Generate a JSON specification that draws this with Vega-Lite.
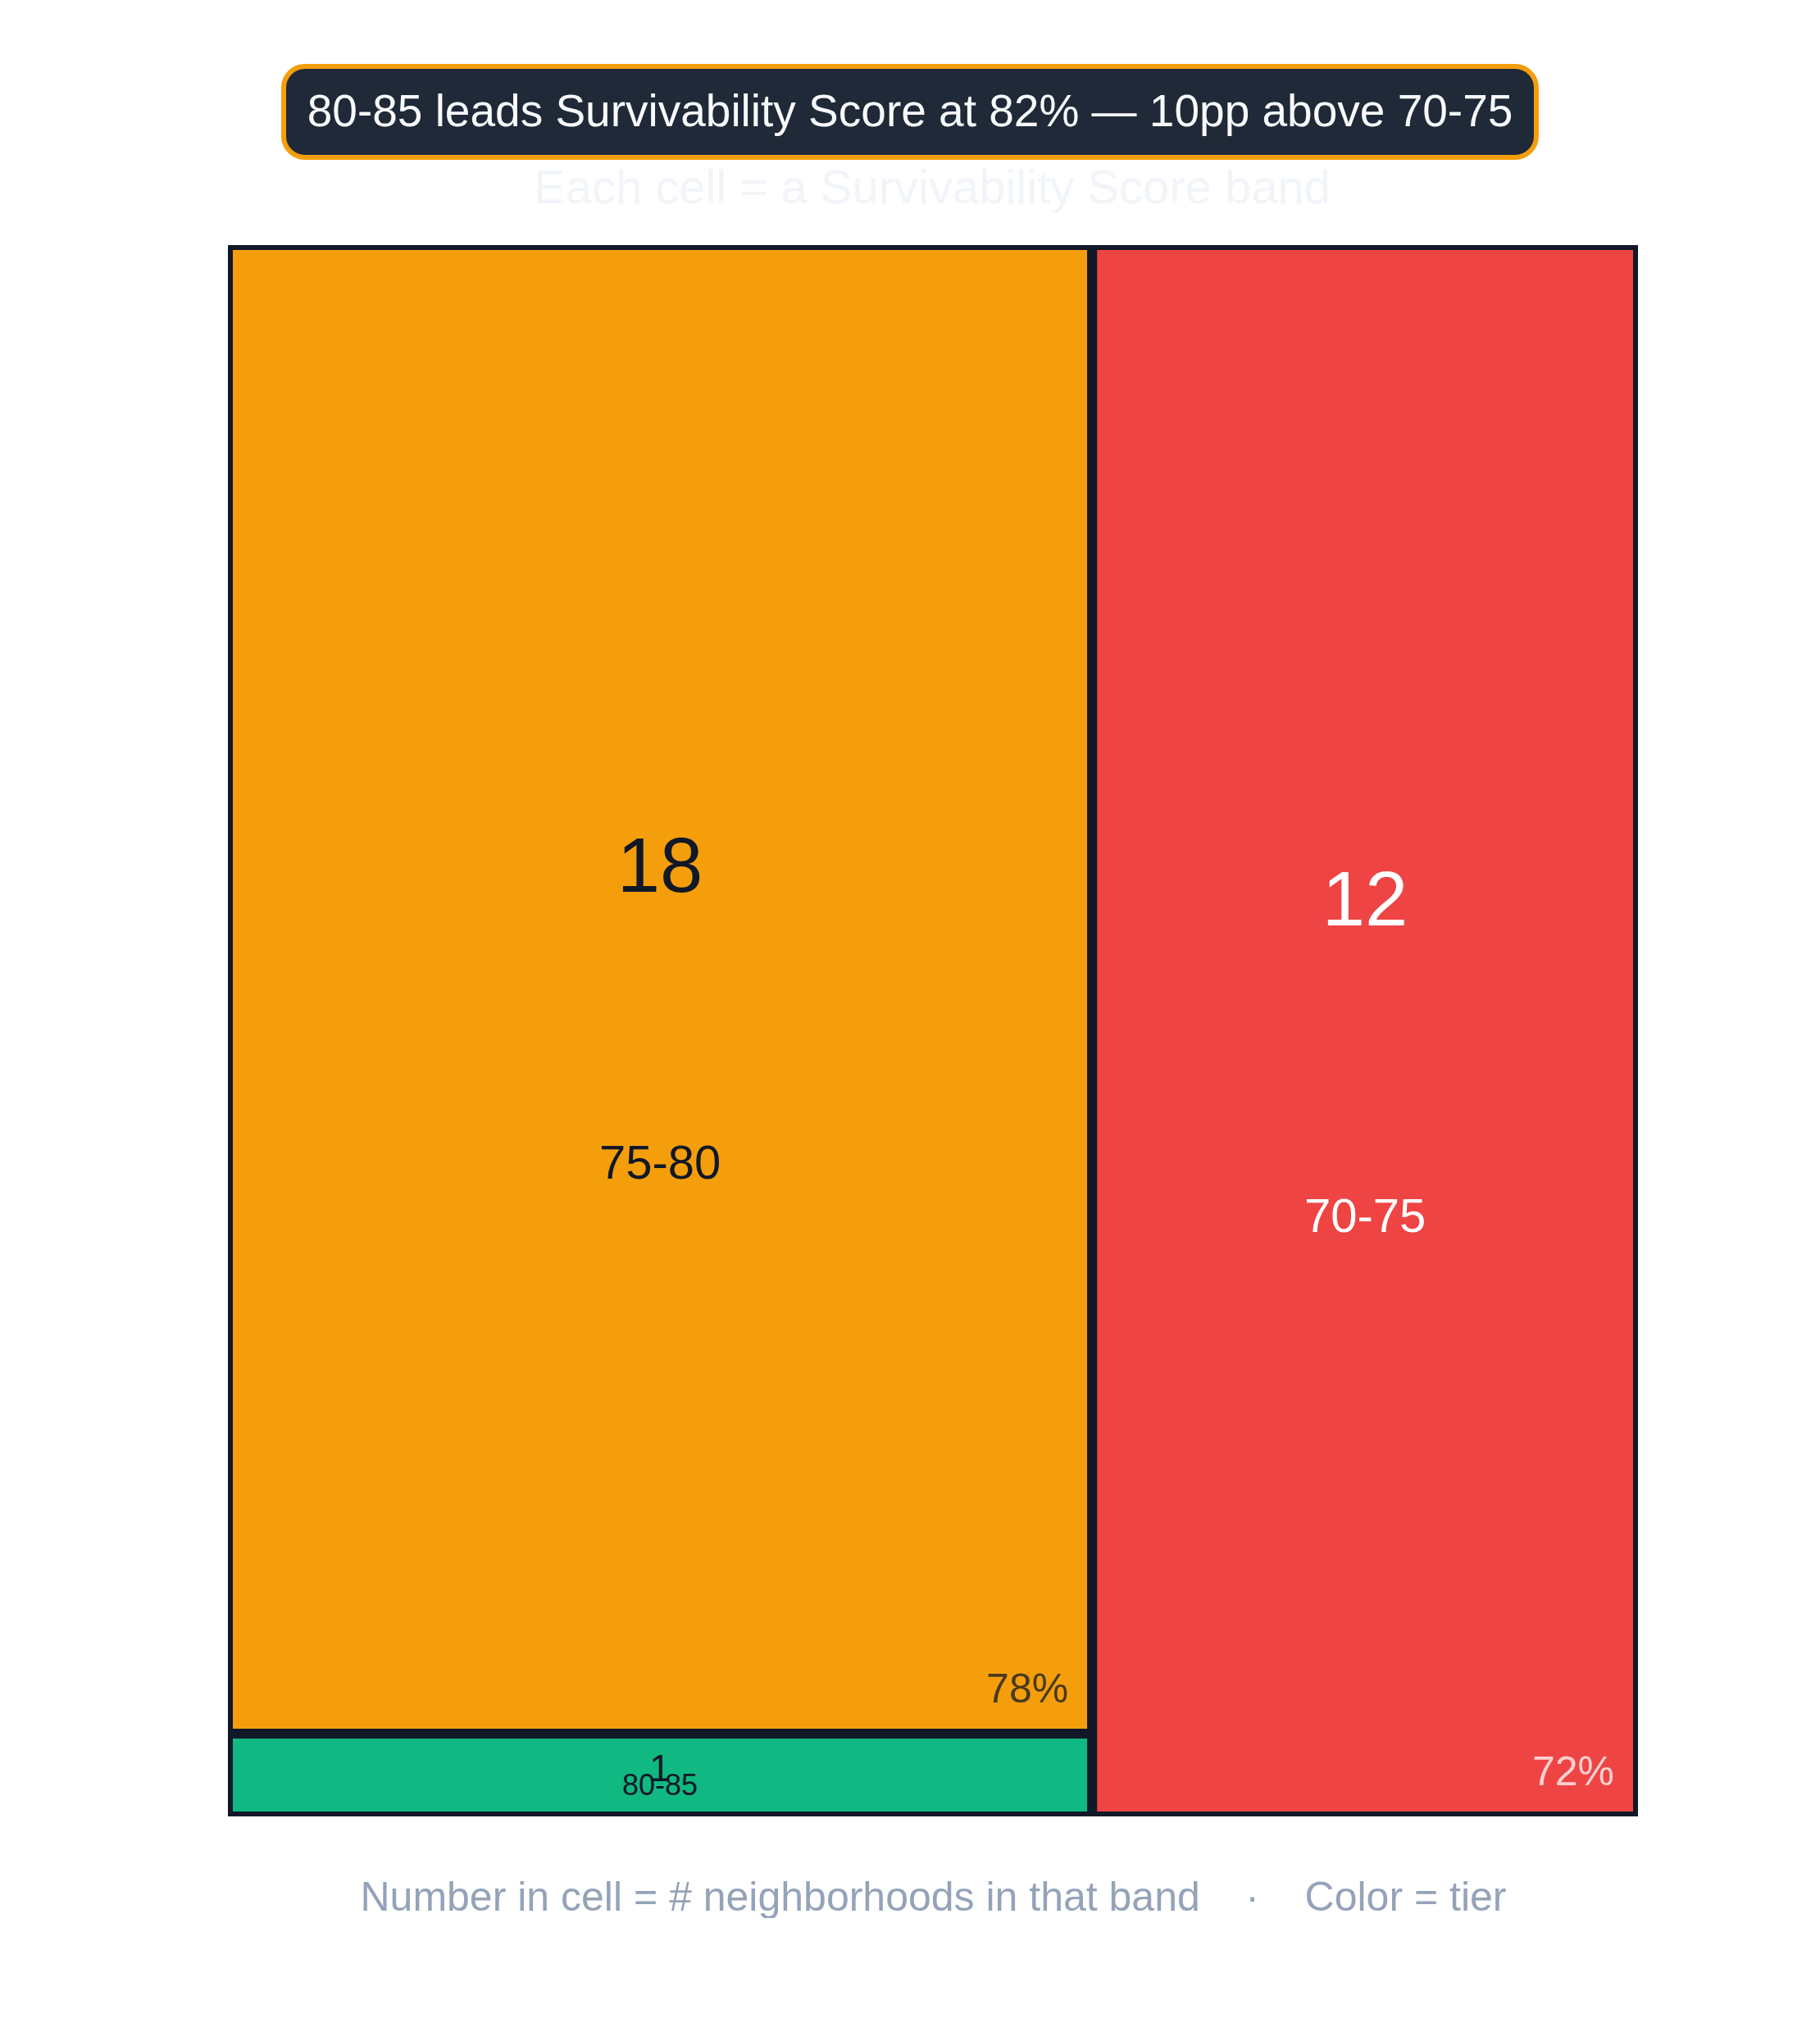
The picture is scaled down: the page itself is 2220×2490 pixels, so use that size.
{
  "$schema": "https://vega.github.io/schema/vega-lite/v6.json",
  "padding": {"left": 278, "top": 78, "right": 0, "bottom": 0},
  "background": "white",
  "spacing": 36,
  "vconcat": [
    {
      "spacing": 0,
      "hconcat": [
        {
          "width": 65,
          "height": 111,
          "data": {"values": [{"blank": ""}]},
          "mark": {"type": "text"},
          "encoding": {"text": {"field": "blank", "type": "nominal"}}
        },
        {
          "width": 1528,
          "height": 111,
          "view": {"fill": "#1f2937", "stroke": "#f59e0b", "strokeWidth": 6, "cornerRadius": 26},
          "title": {
            "text": "Each cell = a Survivability Score band",
            "orient": "bottom",
            "font": "Liberation Sans",
            "fontSize": 58,
            "fontWeight": "normal",
            "color": "#f1f5f9",
            "baseline": "alphabetic",
            "offset": 56,
            "dx": 27,
            "frame": "group",
            "anchor": "middle"
          },
          "data": {"values": [{"headline": "80-85 leads Survivability Score at 82% — 10pp above 70-75"}]},
          "mark": {"type": "text", "font": "Liberation Sans", "fontSize": 55, "color": "#f8fafc", "baseline": "middle"},
          "encoding": {"text": {"field": "headline", "type": "nominal"}}
        }
      ]
    },
    {
      "width": 1720,
      "height": 1917,
      "data": {
        "values": [
          {"band": "75-80", "count": 18, "score": 0.78, "column": "A"},
          {"band": "80-85", "count": 1, "score": 0.82, "column": "A"},
          {"band": "70-75", "count": 12, "score": 0.72, "column": "B"}
        ]
      },
      "transform": [
        {"stack": "count", "groupby": ["column"], "sort": [{"field": "band", "order": "descending"}], "offset": "normalize", "as": ["y0", "y1"]},
        {"stack": "count", "groupby": [], "sort": [{"field": "column", "order": "ascending"}, {"field": "band", "order": "descending"}], "offset": "normalize", "as": ["s0", "s1"]},
        {"joinaggregate": [{"op": "min", "field": "s0", "as": "x0"}, {"op": "max", "field": "s1", "as": "x1"}], "groupby": ["column"]}
      ],
      "layer": [
        {
          "mark": {"type": "rect", "stroke": "#111827", "strokeWidth": 12, "clip": true},
          "encoding": {
            "x": {"field": "x0", "type": "quantitative", "scale": {"domain": [0, 1], "nice": false, "zero": false}, "title": "Number in cell = # neighborhoods in that band\u00a0\u00a0\u00a0\u00a0·\u00a0\u00a0\u00a0\u00a0Color = tier"},
            "x2": {"field": "x1"},
            "y": {"field": "y0", "type": "quantitative", "scale": {"domain": [0, 1], "nice": false, "zero": false}, "axis": null},
            "y2": {"field": "y1"},
            "color": {
              "field": "band",
              "type": "nominal",
              "scale": {"domain": ["80-85", "75-80", "70-75"], "range": ["#10b981", "#f59e0b", "#ef4444"]},
              "legend": null
            }
          }
        },
        {
          "transform": [{"filter": "datum.count > 1"}],
          "mark": {"type": "text", "font": "Liberation Sans", "fontSize": 50, "align": "right", "baseline": "alphabetic", "dx": -29, "dy": -38, "opacity": 0.75},
          "encoding": {
            "x": {"field": "x1", "type": "quantitative", "title": "Number in cell = # neighborhoods in that band\u00a0\u00a0\u00a0\u00a0·\u00a0\u00a0\u00a0\u00a0Color = tier"},
            "y": {"field": "y0", "type": "quantitative", "axis": null},
            "text": {"field": "score", "type": "quantitative", "format": ".0%"},
            "color": {"condition": {"test": "datum.band === '70-75'", "value": "#ffffff"}, "value": "#111827"}
          }
        },
        {
          "transform": [
            {"fold": ["x0", "x1"], "as": ["xk", "xv"]},
            {"aggregate": [{"op": "mean", "field": "xv", "as": "xm"}], "groupby": ["band", "count", "score", "y0", "y1"]},
            {"fold": ["y0", "y1"], "as": ["yk", "yv"]},
            {"aggregate": [{"op": "mean", "field": "yv", "as": "ym"}], "groupby": ["band", "count", "score", "xm"]}
          ],
          "layer": [
            {
              "transform": [{"filter": "datum.band === '75-80'"}],
              "mark": {"type": "text", "font": "Liberation Sans", "fontSize": 94, "baseline": "alphabetic", "dy": -119, "color": "#111827"},
              "encoding": {
                "x": {"field": "xm", "type": "quantitative", "title": "Number in cell = # neighborhoods in that band\u00a0\u00a0\u00a0\u00a0·\u00a0\u00a0\u00a0\u00a0Color = tier"},
                "y": {"field": "ym", "type": "quantitative", "axis": null},
                "text": {"field": "count", "type": "quantitative"}
              }
            },
            {
              "transform": [{"filter": "datum.band === '75-80'"}],
              "mark": {"type": "text", "font": "Liberation Sans", "fontSize": 58, "baseline": "alphabetic", "dy": 231, "color": "#111827"},
              "encoding": {
                "x": {"field": "xm", "type": "quantitative", "title": "Number in cell = # neighborhoods in that band\u00a0\u00a0\u00a0\u00a0·\u00a0\u00a0\u00a0\u00a0Color = tier"},
                "y": {"field": "ym", "type": "quantitative", "axis": null},
                "text": {"field": "band", "type": "nominal"}
              }
            },
            {
              "transform": [{"filter": "datum.band === '70-75'"}],
              "mark": {"type": "text", "font": "Liberation Sans", "fontSize": 94, "baseline": "alphabetic", "dy": -129, "color": "#ffffff"},
              "encoding": {
                "x": {"field": "xm", "type": "quantitative", "title": "Number in cell = # neighborhoods in that band\u00a0\u00a0\u00a0\u00a0·\u00a0\u00a0\u00a0\u00a0Color = tier"},
                "y": {"field": "ym", "type": "quantitative", "axis": null},
                "text": {"field": "count", "type": "quantitative"}
              }
            },
            {
              "transform": [{"filter": "datum.band === '70-75'"}],
              "mark": {"type": "text", "font": "Liberation Sans", "fontSize": 58, "baseline": "alphabetic", "dy": 245, "color": "#ffffff"},
              "encoding": {
                "x": {"field": "xm", "type": "quantitative", "title": "Number in cell = # neighborhoods in that band\u00a0\u00a0\u00a0\u00a0·\u00a0\u00a0\u00a0\u00a0Color = tier"},
                "y": {"field": "ym", "type": "quantitative", "axis": null},
                "text": {"field": "band", "type": "nominal"}
              }
            },
            {
              "transform": [{"filter": "datum.band === '80-85'"}],
              "mark": {"type": "text", "font": "Liberation Sans", "fontSize": 46, "baseline": "alphabetic", "dy": 7, "color": "#111827"},
              "encoding": {
                "x": {"field": "xm", "type": "quantitative", "title": "Number in cell = # neighborhoods in that band\u00a0\u00a0\u00a0\u00a0·\u00a0\u00a0\u00a0\u00a0Color = tier"},
                "y": {"field": "ym", "type": "quantitative", "axis": null},
                "text": {"field": "count", "type": "quantitative"}
              }
            },
            {
              "transform": [{"filter": "datum.band === '80-85'"}],
              "mark": {"type": "text", "font": "Liberation Sans", "fontSize": 36, "baseline": "alphabetic", "dy": 24, "color": "#111827"},
              "encoding": {
                "x": {"field": "xm", "type": "quantitative", "title": "Number in cell = # neighborhoods in that band\u00a0\u00a0\u00a0\u00a0·\u00a0\u00a0\u00a0\u00a0Color = tier"},
                "y": {"field": "ym", "type": "quantitative", "axis": null},
                "text": {"field": "band", "type": "nominal"}
              }
            }
          ]
        }
      ]
    }
  ],
  "config": {
    "view": {"stroke": null},
    "font": "Liberation Sans",
    "axisX": {
      "labels": false,
      "ticks": false,
      "domain": false,
      "grid": false,
      "titleFont": "Liberation Sans",
      "titleFontSize": 50,
      "titleFontWeight": "normal",
      "titleColor": "#94a3b8",
      "titleBaseline": "alphabetic",
      "titlePadding": 114
    }
  }
}
